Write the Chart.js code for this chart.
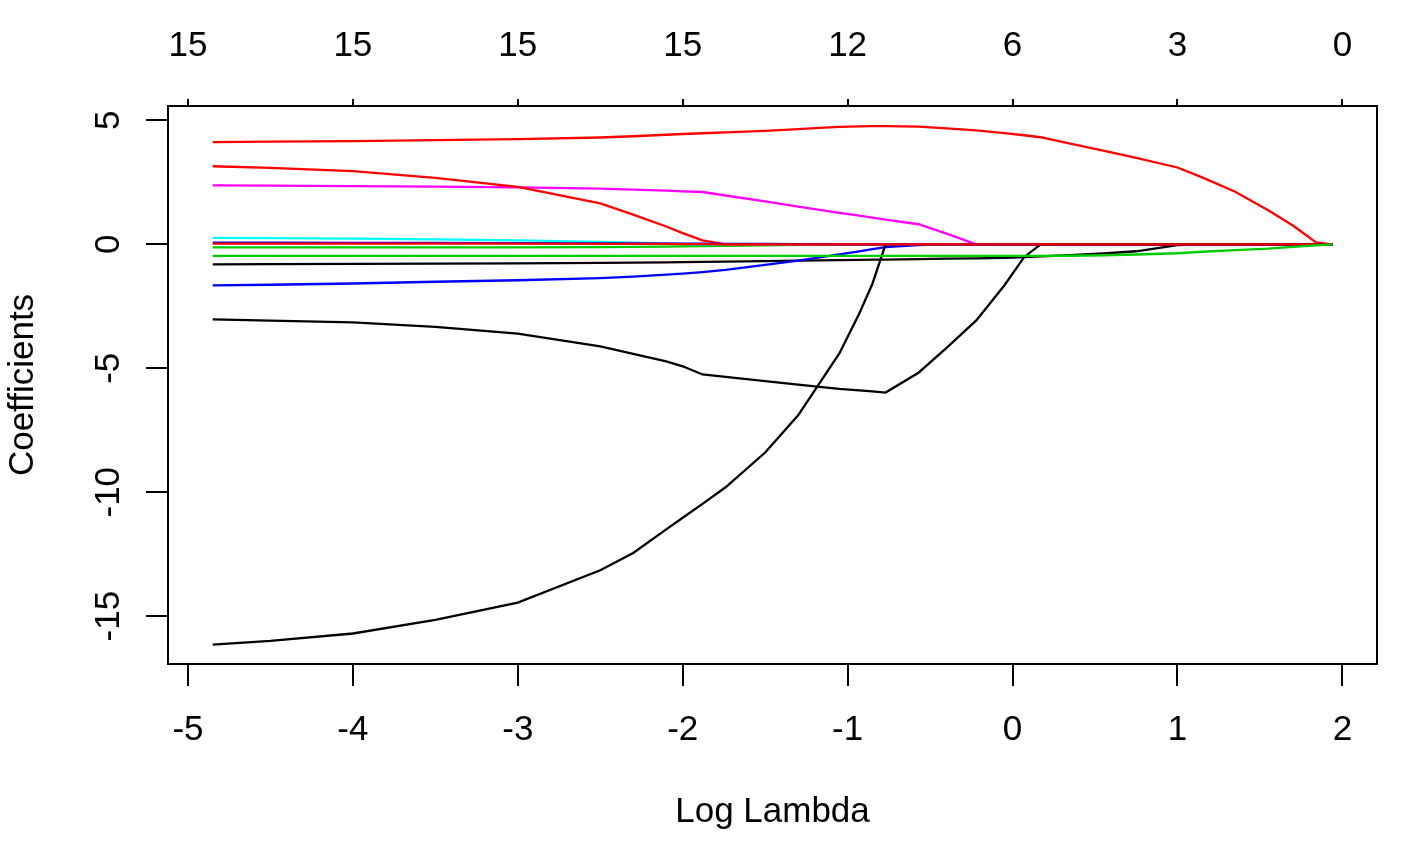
<!DOCTYPE html>
<html>
<head>
<meta charset="utf-8">
<script src="https://cdn.jsdelivr.net/npm/chart.js@4"></script>
<style>
  body { margin: 0; background: #fff; }
  #wrap { width: 1422px; height: 857px; }
</style>
</head>
<body>
<div id="wrap"><canvas id="coefChart" width="1422" height="857"></canvas></div>
<script>
// log(lambda) grid of the path
const logLambda = [-4.85, -4.5, -4.0, -3.5, -3.0, -2.5, -2.3, -2.1, -2.0, -1.88, -1.74, -1.5, -1.3, -1.17,
  -1.05, -0.93, -0.85, -0.77, -0.57, -0.4, -0.22, -0.05, 0.07, 0.17, 0.35, 0.55, 0.75, 1.0, 1.15, 1.35,
  1.55, 1.7, 1.84, 1.94];

// coefficient paths, one per variable (number = column in the coefficient matrix)
const v1 = [-0.81, -0.80, -0.79, -0.78, -0.77, -0.75, -0.74, -0.73, -0.72, -0.71, -0.70, -0.68, -0.66, -0.65,
  -0.64, -0.63, -0.62, -0.62, -0.60, -0.58, -0.57, -0.55, -0.52, -0.49, -0.44, -0.37, -0.28, -0.03, 0, 0,
  0, 0, 0, 0];
const v2 = [4.12, 4.14, 4.16, 4.20, 4.24, 4.31, 4.36, 4.42, 4.45, 4.48, 4.52, 4.58, 4.65, 4.70,
  4.74, 4.76, 4.77, 4.77, 4.75, 4.68, 4.60, 4.49, 4.40, 4.32, 4.06, 3.78, 3.49, 3.10, 2.70, 2.12,
  1.37, 0.76, 0.08, 0];
const v3 = [-0.12, -0.12, -0.12, -0.12, -0.12, -0.11, -0.10, -0.09, -0.08, -0.07, -0.06, -0.04, -0.02, -0.01,
  0, 0, 0, 0, 0, 0, 0, 0, 0, 0, 0, 0, 0, 0, 0, 0,
  0, 0, 0, 0];
const v4 = [-1.66, -1.63, -1.58, -1.51, -1.45, -1.36, -1.30, -1.22, -1.18, -1.12, -1.03, -0.83, -0.66, -0.53,
  -0.41, -0.28, -0.19, -0.11, -0.03, 0, 0, 0, 0, 0, 0, 0, 0, 0, 0, 0,
  0, 0, 0, 0];
const v5 = [0.26, 0.25, 0.23, 0.20, 0.16, 0.10, 0.07, 0.04, 0.02, 0, 0, 0, 0, 0,
  0, 0, 0, 0, 0, 0, 0, 0, 0, 0, 0, 0, 0, 0, 0, 0,
  0, 0, 0, 0];
const v6 = [2.38, 2.37, 2.35, 2.33, 2.30, 2.25, 2.21, 2.17, 2.14, 2.11, 1.97, 1.73, 1.52, 1.39,
  1.27, 1.16, 1.08, 1.00, 0.81, 0.43, 0, 0, 0, 0, 0, 0, 0, 0, 0, 0,
  0, 0, 0, 0];
const v7 = [-16.15, -16.0, -15.7, -15.15, -14.45, -13.15, -12.45, -11.5, -11.03, -10.47, -9.8, -8.4, -6.9, -5.6,
  -4.4, -2.8, -1.6, 0, 0, 0, 0, 0, 0, 0, 0, 0, 0, 0, 0, 0,
  0, 0, 0, 0];
const v8 = [3.15, 3.08, 2.95, 2.68, 2.32, 1.65, 1.20, 0.72, 0.45, 0.16, 0, 0, 0, 0,
  0, 0, 0, 0, 0, 0, 0, 0, 0, 0, 0, 0, 0, 0, 0, 0,
  0, 0, 0, 0];
const v10 = [0.07, 0.07, 0.06, 0.06, 0.05, 0.04, 0.035, 0.03, 0.03, 0.025, 0.02, 0.015, 0.01, 0.005,
  0, 0, 0, 0, 0, 0, 0, 0, 0, 0, 0, 0, 0, 0, 0, 0,
  0, 0, 0, 0];
const v13 = [-3.03, -3.08, -3.15, -3.33, -3.6, -4.12, -4.42, -4.72, -4.92, -5.25, -5.35, -5.52, -5.66, -5.75,
  -5.83, -5.89, -5.93, -5.98, -5.18, -4.18, -3.07, -1.66, -0.52, 0, 0, 0, 0, 0, 0, 0,
  0, 0, 0, 0];
const v14 = [0.03, 0.03, 0.03, 0.03, 0.025, 0.02, 0.02, 0.015, 0.01, 0.005, 0, 0, 0, 0,
  0, 0, 0, 0, 0, 0, 0, 0, 0, 0, 0, 0, 0, 0, 0, 0,
  0, 0, 0, 0];
const v15 = [-0.47, -0.47, -0.47, -0.47, -0.47, -0.47, -0.47, -0.47, -0.47, -0.47, -0.47, -0.47, -0.47, -0.47,
  -0.47, -0.47, -0.47, -0.47, -0.47, -0.47, -0.47, -0.47, -0.47, -0.47, -0.46, -0.44, -0.41, -0.36, -0.30, -0.23,
  -0.17, -0.10, -0.04, 0];

const paths = [[1, v1], [2, v2], [3, v3], [4, v4], [5, v5], [6, v6], [7, v7], [8, v8],
  [10, v10], [13, v13], [14, v14], [15, v15]];

// tick values and labels
const xTicks = [-5, -4, -3, -2, -1, 0, 1, 2];
const yTicks = [-15, -10, -5, 0, 5];
const dfCounts = [15, 15, 15, 15, 12, 6, 3, 0];

// R's old default palette, recycled like matplot does
const palette = ["#000000", "#FF0000", "#00CD00", "#0000FF", "#00FFFF", "#FF00FF"];

const FONT = { family: "'Liberation Sans', Arial, Helvetica, sans-serif", size: 35 };

const setTicks = (vals) => (scale) => { scale.ticks = vals.map((v) => ({ value: v })); };

// box around the plot region + vertical y tick labels
const rFrame = {
  id: "rFrame",
  afterDraw(chart) {
    const { ctx, chartArea: a } = chart;
    const y = chart.scales.y;
    ctx.save();
    ctx.strokeStyle = "#000";
    ctx.lineWidth = 2;
    ctx.strokeRect(a.left, a.top, a.right - a.left, a.bottom - a.top);
    ctx.fillStyle = "#000";
    ctx.font = `${FONT.size}px ${FONT.family}`;
    ctx.textAlign = "center";
    ctx.textBaseline = "middle";
    y.ticks.forEach((t) => {
      ctx.save();
      ctx.translate(109, y.getPixelForValue(t.value));
      ctx.rotate(-Math.PI / 2);
      ctx.fillText(String(t.value), 0, 0);
      ctx.restore();
    });
    ctx.restore();
  },
};

new Chart(document.getElementById("coefChart"), {
  type: "line",
  data: {
    datasets: paths.map(([n, vals], i) => ({
      data: logLambda.map((x, k) => ({ x, y: vals[k] })),
      borderColor: palette[(n - 1) % 6],
      borderWidth: 2.3,
      pointRadius: 0,
      tension: 0,
      fill: false,
      order: -i,
    })),
  },
  options: {
    responsive: false,
    animation: false,
    devicePixelRatio: 1,
    layout: { padding: { right: 45 } },
    plugins: { legend: { display: false }, tooltip: { enabled: false } },
    scales: {
      x: {
        type: "linear",
        position: "bottom",
        min: -5.121,
        max: 2.21,
        afterBuildTicks: setTicks(xTicks),
        afterFit: (s) => { s.height = 193; },
        grid: { drawOnChartArea: false, drawTicks: true, tickLength: 22, color: "#000", lineWidth: 2 },
        border: { display: false },
        ticks: { color: "#000", font: FONT, padding: 23, maxRotation: 0, autoSkip: false },
        title: { display: true, text: "Log Lambda", color: "#000", font: FONT, padding: { top: 0, bottom: 24 } },
      },
      x2: {
        type: "linear",
        position: "top",
        min: -5.121,
        max: 2.21,
        afterBuildTicks: setTicks(xTicks),
        afterFit: (s) => { s.height = 106; },
        grid: { drawOnChartArea: false, drawTicks: true, tickLength: 7, color: "#000", lineWidth: 2 },
        border: { display: false },
        ticks: {
          color: "#000", font: FONT, padding: 32, maxRotation: 0, autoSkip: false,
          callback: (v, i) => dfCounts[i],
        },
      },
      y: {
        type: "linear",
        position: "left",
        min: -16.93,
        max: 5.58,
        afterBuildTicks: setTicks(yTicks),
        afterFit: (s) => { s.width = 168; },
        grid: { drawOnChartArea: false, drawTicks: true, tickLength: 22, color: "#000", lineWidth: 2 },
        border: { display: false },
        ticks: { display: false },
        title: { display: true, text: "Coefficients", color: "#000", font: FONT, padding: { top: 2, bottom: 0 } },
      },
    },
  },
  plugins: [rFrame],
});
</script>
</body>
</html>
